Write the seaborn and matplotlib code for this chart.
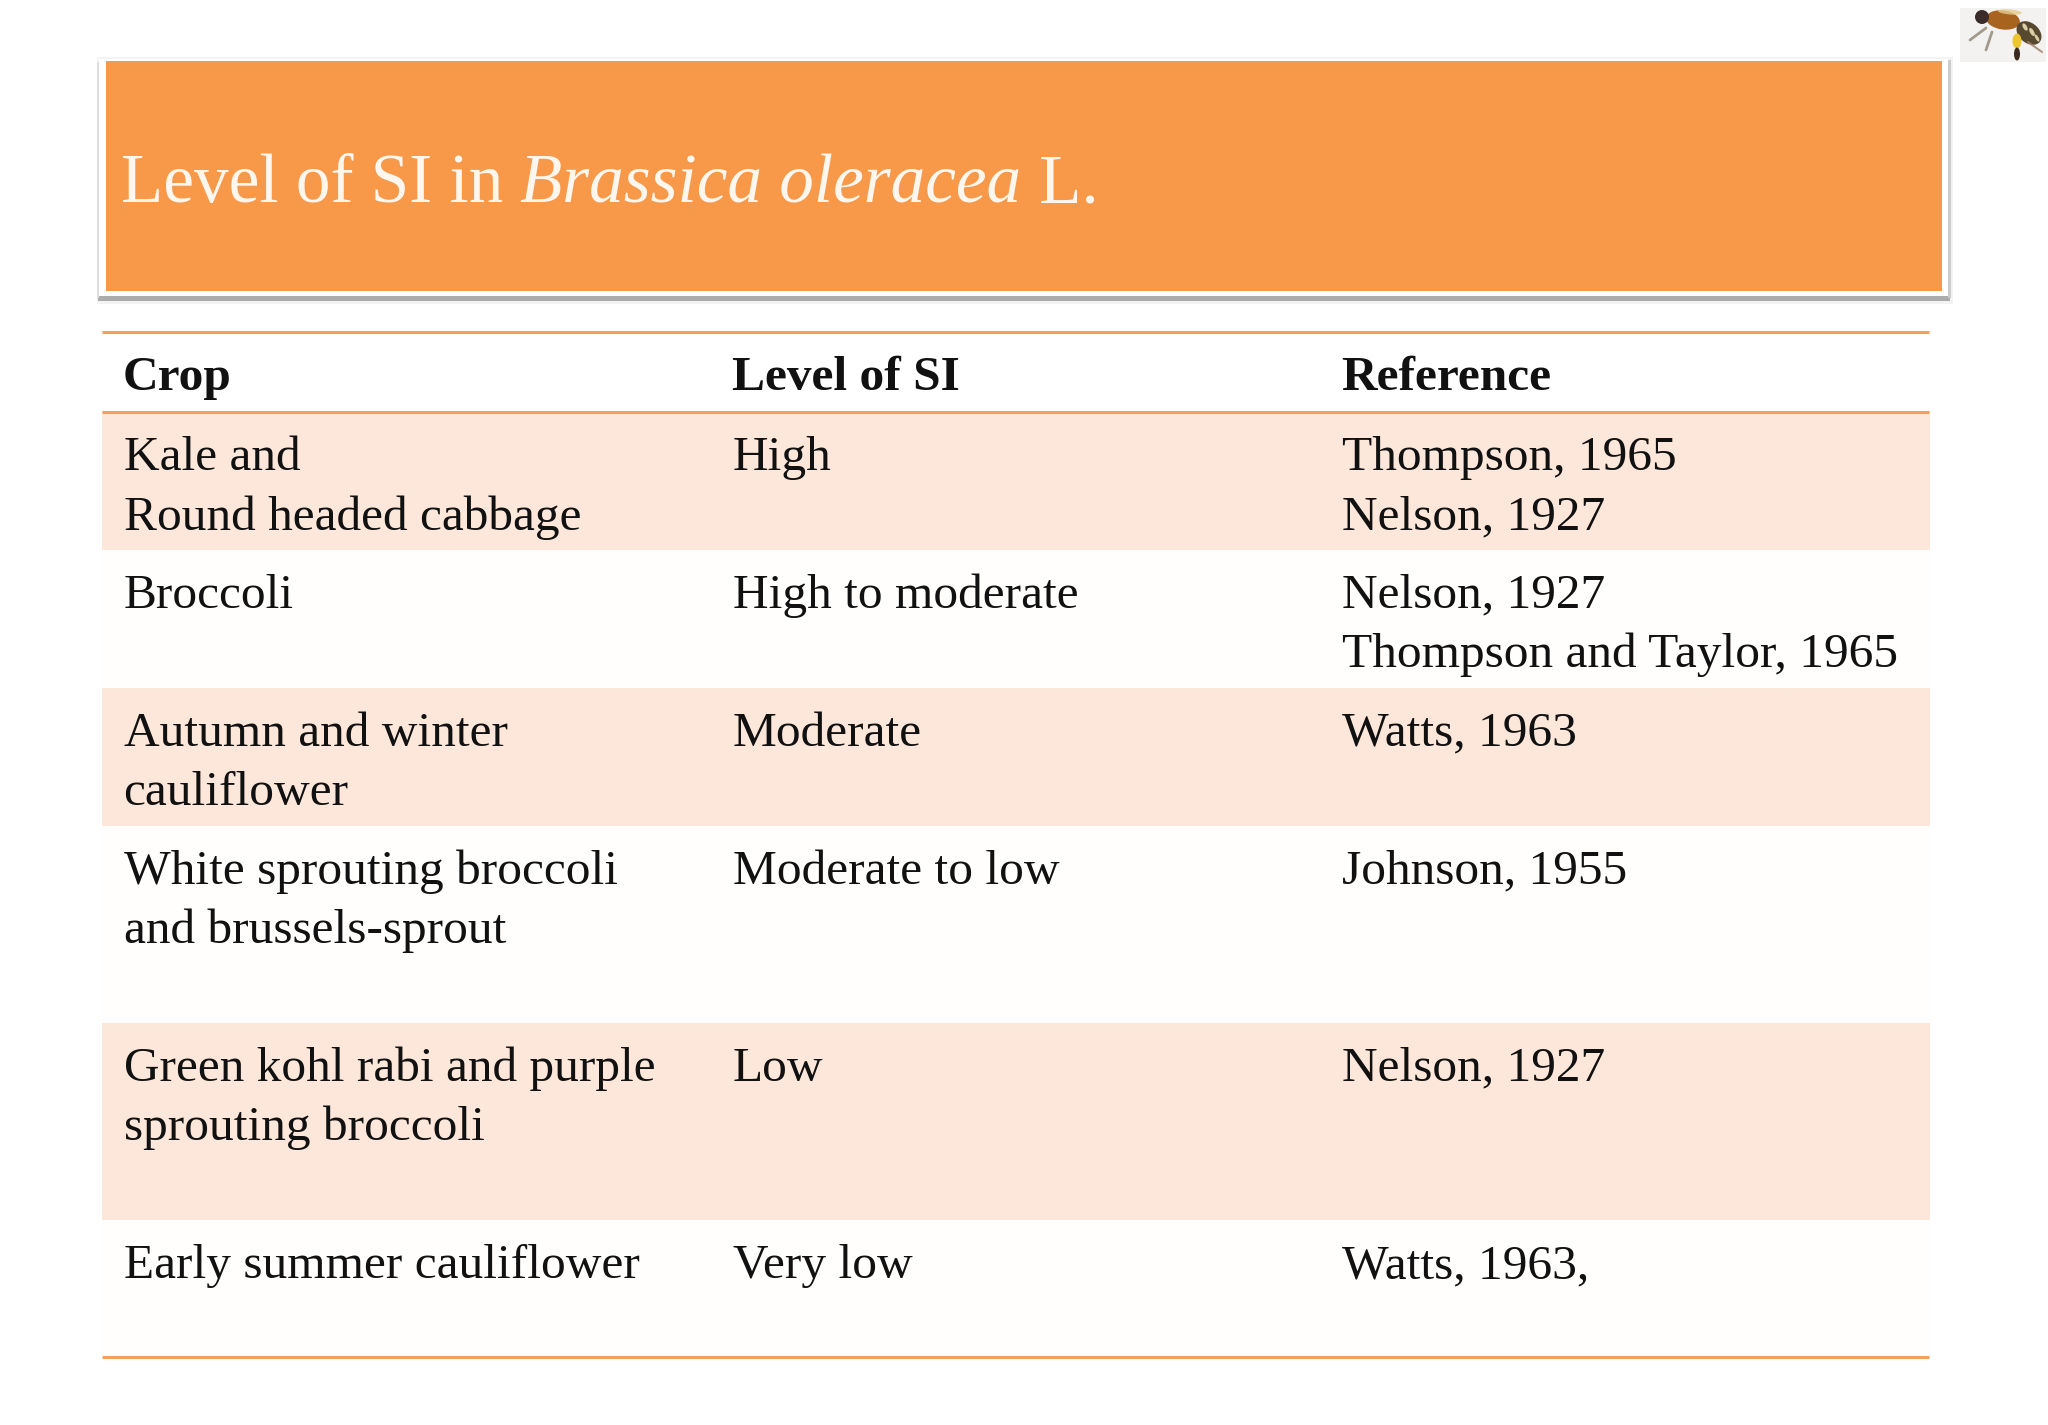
import numpy as np
import matplotlib
matplotlib.use('Agg')
import matplotlib.pyplot as plt
from matplotlib.colors import ListedColormap
from matplotlib.patches import Rectangle, Ellipse
import seaborn as sns

columns = ['Crop', 'Level of SI', 'Reference']
crops = ['Kale and\nRound headed cabbage', 'Broccoli', 'Autumn and winter\ncauliflower',
         'White sprouting broccoli\nand brussels-sprout', 'Green kohl rabi and purple\nsprouting broccoli',
         'Early summer cauliflower']
levels = ['High', 'High to moderate', 'Moderate', 'Moderate to low', 'Low', 'Very low']
references = ['Thompson, 1965\nNelson, 1927', 'Nelson, 1927\nThompson and Taylor, 1965', 'Watts, 1963',
              'Johnson, 1955', 'Nelson, 1927', 'Watts, 1963,']
row_units = [7, 7, 7, 10, 10, 7]
row_shade = [1, 0, 1, 0, 1, 0]

ORANGE = '#F8994A'
LINE = '#F2A05C'
PEACH = '#FDE7DB'
INK = '#111111'

sns.set_theme(style='white')
plt.rcParams['font.family'] = ['Liberation Serif', 'DejaVu Serif']

W, H = 2048, 1425
fig = plt.figure(figsize=(W / 100, H / 100), dpi=100, facecolor='white')
ax = fig.add_axes([0, 0, 1, 1])
ax.set_xlim(0, W)
ax.set_ylim(H, 0)
ax.axis('off')

# banner with its frame and shadow
ax.add_patch(Rectangle((97, 57), 1856, 247, fc='#F3F3F3', ec='none'))
ax.add_patch(Rectangle((98, 296), 1852, 5, fc='#ABABAB', ec='none'))
ax.add_patch(Rectangle((99, 59), 1849, 237, fc='white', ec='none'))
ax.add_patch(Rectangle((1948, 60), 3, 238, fc='#CCCCCC', ec='none'))
ax.add_patch(Rectangle((97, 62), 2, 236, fc='#DDDDDD', ec='none'))
ax.add_patch(Rectangle((106, 61), 1836, 230, fc=ORANGE, ec='none'))

# title in three runs, the middle one italic
renderer = fig.canvas.get_renderer()
x = 121
for part, style in [('Level of SI in ', 'normal'), ('Brassica oleracea', 'italic'), (' L.', 'normal')]:
    t = ax.text(x, 202, part.replace(' ', '\u00a0'), color='#FFF6EE', fontsize=49.8, style=style, va='baseline')
    x += t.get_window_extent(renderer).width

# table bands, one heatmap row per height unit
table_left, table_right, table_top, table_bottom = 102, 1930, 412, 1358
band = np.repeat(row_shade, row_units).reshape(-1, 1)
hax = fig.add_axes([table_left / W, 1 - table_bottom / H,
                    (table_right - table_left) / W, (table_bottom - table_top) / H])
sns.heatmap(band, ax=hax, cmap=ListedColormap(['#FFFEFD', PEACH]), cbar=False,
            xticklabels=False, yticklabels=False, vmin=0, vmax=1)
hax.set_zorder(0)
ax.set_zorder(1)
ax.patch.set_alpha(0)

for y in [332, 412, 1357]:
    ax.plot([table_left, table_right - 1], [y, y], color=LINE, lw=2.2, solid_capstyle='butt')

col_x = [123.5, 733, 1341.5]
for cx, name in zip(col_x, columns):
    ax.text(cx - 0.5, 390, name, fontsize=35.6, fontweight='bold', color=INK, va='baseline')

unit_h = (table_bottom - table_top) / sum(row_units)
row_top = table_top
for crop, level, ref, units in zip(crops, levels, references, row_units):
    for cx, cell in zip(col_x, [crop, level, ref]):
        for n, line in enumerate(cell.split('\n')):
            ax.text(cx, row_top + 58 + n * 59.5, line, fontsize=35.6, color=INK, va='baseline')
    row_top += units * unit_h

# small bee picture in the corner
ax.add_patch(Rectangle((1960, 8), 86, 54, fc='#F4F2F0', ec='none'))
ax.plot([1992, 1986], [32, 50], color='#8C8474', lw=2, alpha=0.8)
ax.plot([1986, 1970], [28, 40], color='#8C8474', lw=2, alpha=0.8)
ax.plot([2028, 2042], [42, 52], color='#9C8068', lw=1.5, alpha=0.8)
ax.add_patch(Ellipse((2003, 20), 34, 19, angle=8, fc='#A8641F', ec='none'))
ax.add_patch(Ellipse((1982, 17), 14, 14, fc='#3A2C2A', ec='none'))
ax.add_patch(Ellipse((2010, 12), 24, 5, angle=5, fc='#E6CC8C', ec='none', alpha=0.8))
ax.add_patch(Ellipse((2029, 33), 28, 20, angle=40, fc='#57492F', ec='none'))
ax.add_patch(Ellipse((2025, 27), 4, 8, angle=-30, fc='#D8CFA8', ec='none'))
ax.add_patch(Ellipse((2032, 32), 4, 9, angle=-30, fc='#D8CFA8', ec='none'))
ax.add_patch(Ellipse((2037, 38), 3, 8, angle=-30, fc='#D8CFA8', ec='none'))
ax.add_patch(Ellipse((2017, 41), 9, 15, fc='#EDC531', ec='none'))
ax.add_patch(Ellipse((2017, 54), 6, 13, fc='#3A2B1E', ec='none'))

fig.savefig('out.png', dpi=100, facecolor='white')
